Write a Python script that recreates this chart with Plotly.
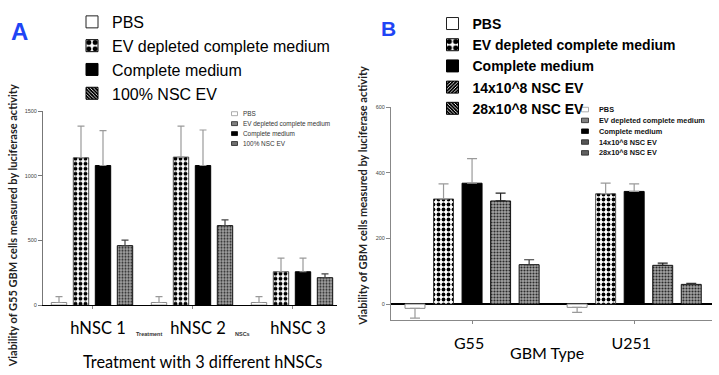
import plotly.graph_objects as go

W, H = 719, 375

# ---------------- Panel A data ----------------
a_categories = ["hNSC 1", "hNSC 2", "hNSC 3"]
a_names = ["PBS", "EV depleted complete medium", "Complete medium", "100% NSC EV"]
a_pbs = [20, 20, 20]
a_pbs_err = [45, 45, 45]
a_evdep = [1140, 1145, 258]
a_evdep_err = [245, 240, 105]
a_complete = [1080, 1080, 258]
a_complete_err = [270, 275, 105]
a_nscev = [460, 615, 212]
a_nscev_err = [42, 45, 30]
a_yticks = [0, 500, 1000, 1500]

# ---------------- Panel B data ----------------
b_categories = ["G55", "U251"]
b_names = ["PBS", "EV depleted complete medium", "Complete medium",
           "14x10^8 NSC EV", "28x10^8 NSC EV"]
b_pbs = [-13, -10]
b_pbs_err = [30, 15]
b_evdep = [320, 336]
b_evdep_err = [46, 32]
b_complete = [368, 343]
b_complete_err = [75, 23]
b_nsc14 = [314, 118]
b_nsc14_err = [24, 7]
b_nsc28 = [120, 60]
b_nsc28_err = [15, 3]
b_yticks = [0, 200, 400, 600]


def px(x):
    return x / W


def py(y):
    return 1 - y / H


# bar styles
def style_white():
    return dict(color="white", line=dict(color="#8a8a8a", width=1))


def style_checker():
    return dict(color="white", line=dict(color="#222", width=0.8),
                pattern=dict(shape=".", size=5, solidity=0.45, fgcolor="black",
                             bgcolor="white", fillmode="replace"))


def style_black():
    return dict(color="black", line=dict(color="black", width=1))


def style_gray():
    return dict(color="white", line=dict(color="#111", width=1),
                pattern=dict(shape=".", size=3, solidity=0.4, fgcolor="#2a2a2a",
                             bgcolor="#a4a4a4", fillmode="replace"))


def err(vals, errs, color, width):
    plus = [e if v >= 0 else 0 for v, e in zip(vals, errs)]
    minus = [e if v < 0 else 0 for v, e in zip(vals, errs)]
    return dict(type="data", symmetric=False, array=plus, arrayminus=minus,
                color=color, thickness=1.2, width=width)


fig = go.Figure()

a_series = [(a_pbs, a_pbs_err, style_white(), "#9a9a9a"),
            (a_evdep, a_evdep_err, style_checker(), "#9a9a9a"),
            (a_complete, a_complete_err, style_black(), "#9a9a9a"),
            (a_nscev, a_nscev_err, style_gray(), "#444")]
for name, (vals, errs, mk, ec) in zip(a_names, a_series):
    fig.add_trace(go.Bar(x=a_categories, y=vals, name=name, marker=mk,
                         error_y=err(vals, errs, ec, 3.5),
                         xaxis="x", yaxis="y", showlegend=False))

b_series = [(b_pbs, b_pbs_err, style_white(), "#9a9a9a"),
            (b_evdep, b_evdep_err, style_checker(), "#9a9a9a"),
            (b_complete, b_complete_err, style_black(), "#9a9a9a"),
            (b_nsc14, b_nsc14_err, style_gray(), "#222"),
            (b_nsc28, b_nsc28_err, style_gray(), "#333")]
for name, (vals, errs, mk, ec) in zip(b_names, b_series):
    fig.add_trace(go.Bar(x=b_categories, y=vals, name=name, marker=mk,
                         error_y=err(vals, errs, ec, 5),
                         xaxis="x2", yaxis="y2", showlegend=False))


# ---------------- big legends (legend-only traces on a hidden axis) ----------------
def leg_marker(kind):
    if kind == "white":
        return dict(color="white", line=dict(color="#222", width=1))
    if kind == "checker":
        return dict(color="white", line=dict(color="black", width=1),
                    pattern=dict(shape=".", size=8, solidity=0.5, fgcolor="black",
                                 bgcolor="white", fillmode="replace"))
    if kind == "black":
        return dict(color="black", line=dict(color="black", width=1))
    if kind == "back":
        return dict(color="black", line=dict(color="black", width=1),
                    pattern=dict(shape="\\", size=3, solidity=0.35, fgcolor="white",
                                 bgcolor="black", fillmode="replace"))
    return dict(color="black", line=dict(color="black", width=1),
                pattern=dict(shape="/", size=3, solidity=0.35, fgcolor="white",
                             bgcolor="black", fillmode="replace"))


for name, kind in zip(a_names, ["white", "checker", "black", "back"]):
    fig.add_trace(go.Bar(x=[None], y=[None], name=name, marker=leg_marker(kind),
                         xaxis="x3", yaxis="y3", legend="legend", showlegend=True))
for name, kind in zip(b_names, ["white", "checker", "black", "fwd", "back"]):
    fig.add_trace(go.Bar(x=[None], y=[None], name=name, marker=leg_marker(kind),
                         xaxis="x3", yaxis="y3", legend="legend2", showlegend=True))

# ---------------- small legends (shapes + text) ----------------
shapes = []
annotations = []
small_a = [("white", "#999"), ("#808080", "#222"), ("black", "black"), ("#707070", "#222")]
for i, (name, (fc, lc)) in enumerate(zip(a_names, small_a)):
    yc = 112.5 + i * 10.1
    shapes.append(dict(type="rect", xref="paper", yref="paper",
                       x0=px(231.5), x1=px(237.5), y0=py(yc + 2), y1=py(yc - 2),
                       fillcolor=fc, line=dict(color=lc, width=0.8)))
    annotations.append(dict(x=px(240.5), y=py(yc), xref="paper", yref="paper",
                            text=name, showarrow=False, xanchor="left", yanchor="middle",
                            font=dict(family="Liberation Sans", size=6.4, color="#333")))
small_b = [("white", "#999"), ("#808080", "#222"), ("black", "black"),
           ("#555", "#222"), ("#606060", "#222")]
for i, (name, (fc, lc)) in enumerate(zip(b_names, small_b)):
    yc = 108.3 + i * 11.0
    shapes.append(dict(type="rect", xref="paper", yref="paper",
                       x0=px(581.5), x1=px(588.5), y0=py(yc + 2.3), y1=py(yc - 2.3),
                       fillcolor=fc, line=dict(color=lc, width=0.8)))
    annotations.append(dict(x=px(596.5), y=py(yc), xref="paper", yref="paper",
                            text=name, showarrow=False, xanchor="left", yanchor="middle",
                            font=dict(family="Liberation Sans", size=7.3, color="#111",
                                      weight="bold")))


# ---------------- texts ----------------
def txt(x, y, text, size, family="Lato", color="black", angle=0, weight="normal"):
    annotations.append(dict(x=px(x), y=py(y), xref="paper", yref="paper", text=text,
                            showarrow=False, xanchor="center", yanchor="middle",
                            textangle=angle,
                            font=dict(family=family, size=size, color=color, weight=weight)))


txt(19.5, 29, "A", 24, family="Liberation Sans", color="#1f45f5", weight="bold")
txt(388.5, 26, "B", 21, family="Liberation Sans", color="#1f45f5", weight="bold")
txt(12, 227, "Viability of G55 GBM cells measured by luciferase activity", 11,
    angle=-90, weight="bold", color="#222")
txt(363, 196, "Viability of GBM cells measured by luciferase activity", 11,
    angle=-90, weight="bold", color="#222")
txt(149, 336, "Treatment", 5.5, family="Liberation Sans", color="#333", weight="bold")
txt(242.5, 336, "NSCs", 5.5, family="Liberation Sans", color="#333", weight="bold")
txt(202, 364, "Treatment with 3 different hNSCs", 16.3)
txt(546.5, 355, "GBM Type", 16)

axis_common = dict(showgrid=False, zeroline=False, fixedrange=True, ticks="outside")

fig.update_layout(
    width=W, height=H, margin=dict(l=0, r=0, t=0, b=0),
    paper_bgcolor="white", plot_bgcolor="rgba(0,0,0,0)",
    barmode="group", bargap=0.12, bargroupgap=0.3,
    font=dict(family="Liberation Sans", color="black"),
    xaxis=dict(domain=[px(43), px(337)], range=[-0.49, 2.45], anchor="y",
               showline=True, linecolor="black", linewidth=1, ticklen=3,
               tickcolor="#888", tickfont=dict(family="Lato", size=16.5, color="black"),
               ticklabelshift=6, ticklabelstandoff=5, **axis_common),
    yaxis=dict(domain=[py(307), py(110)], range=[0, 1500], anchor="x",
               tickvals=a_yticks, showline=True, linecolor="#777", linewidth=1,
               ticklen=4, tickcolor="#777",
               tickfont=dict(size=5.5, color="#444"), **axis_common),
    xaxis2=dict(domain=[px(391), px(712)], range=[-0.5, 1.48], anchor="y2",
                showline=True, linecolor="#888", linewidth=1, ticklen=3,
                tickcolor="#888", tickfont=dict(family="Lato", size=16, color="black"),
                ticklabelshift=-3, ticklabelstandoff=6, **axis_common),
    yaxis2=dict(domain=[py(322), py(105.7)], range=[-48, 600], anchor="x2",
                tickvals=b_yticks, showline=True, linecolor="#888", linewidth=1,
                ticklen=4, tickcolor="#888",
                tickfont=dict(size=5.5, color="#444"),
                showgrid=False, fixedrange=True, ticks="outside",
                zeroline=True, zerolinecolor="black", zerolinewidth=1.5),
    xaxis3=dict(domain=[0, 0.01], visible=False, anchor="y3"),
    yaxis3=dict(domain=[0, 0.01], visible=False, anchor="x3"),
    legend=dict(x=px(72), y=py(2), xanchor="left", yanchor="top",
                bgcolor="rgba(0,0,0,0)", font=dict(family="Liberation Sans", size=16),
                traceorder="normal", itemclick=False, itemdoubleclick=False),
    legend2=dict(x=px(432.5), y=py(5), xanchor="left", yanchor="top",
                 bgcolor="rgba(0,0,0,0)",
                 font=dict(family="Liberation Sans", size=14, weight="bold"),
                 traceorder="normal", itemclick=False, itemdoubleclick=False),
    shapes=shapes, annotations=annotations,
)

fig.write_html("out.html", config={"displayModeBar": False},
               post_script="document.body.style.margin='0';document.body.style.padding='0';")
